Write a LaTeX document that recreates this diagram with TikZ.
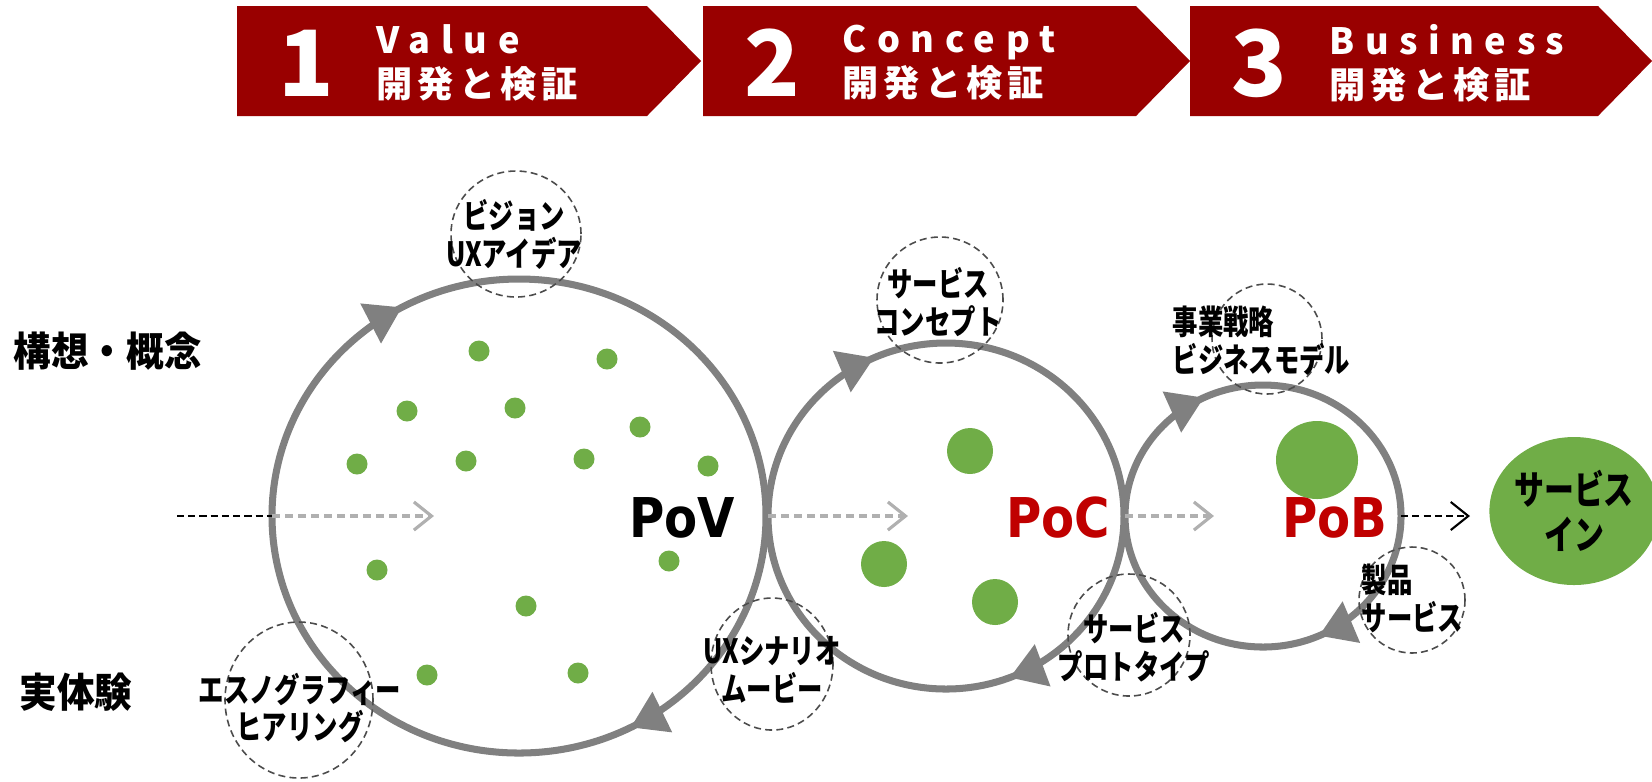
\documentclass[tikz,border=0pt]{standalone}
\usepackage{fontspec}
\usetikzlibrary{arrows.meta,decorations.markings,shapes.geometric}
\setmainfont{Noto Sans CJK JP}
\newfontfamily\lblfont{Noto Sans CJK JP}[FakeStretch=0.76]
\newfontfamily\sidefont{Noto Sans CJK JP}[FakeStretch=0.93]
\newfontfamily\banlatin{Noto Sans CJK JP}[LetterSpace=29]
\newfontfamily\banjp{Noto Sans CJK JP}[LetterSpace=14]
\newfontfamily\pofont{DejaVu Sans}[FakeStretch=0.88]
\definecolor{banred}{HTML}{990000}
\definecolor{leafgreen}{HTML}{70AD47}
\definecolor{ringgray}{HTML}{808080}
\definecolor{leadgray}{HTML}{B0B0B0}
\definecolor{pocred}{HTML}{C00000}
\begin{document}
\begin{tikzpicture}[>={Straight Barb[length=5pt,width=8pt]},
  ring/.style 2 args={draw=ringgray, line width=2pt, postaction={decorate},
    decoration={markings,
      mark=at position #1 with {\arrow{Triangle[length=10pt,width=12.3pt]}},
      mark=at position #2 with {\arrow{Triangle[length=10pt,width=12.3pt]}}}},
  lead/.style={->, leadgray, line width=.9pt, dash pattern=on 2.4pt off 1.3pt},
  cue/.style={black, line width=.6pt, dash pattern=on 2pt off 1.2pt},
  bubble/.style={draw=black!70, line width=.45pt, dash pattern=on 2pt off 1.2pt},
  lbl/.style={font=\lblfont\bfseries\fontsize{9.5}{10.8}\selectfont, align=center, inner sep=0pt},
  side/.style={font=\sidefont\bfseries\fontsize{11.5}{13}\selectfont, anchor=west, inner sep=0pt},
  proof/.style={font=\pofont\bfseries\fontsize{15.6}{18}\selectfont, anchor=base, inner sep=0pt},
  bannum/.style={white, font=\bfseries\fontsize{26}{28}\selectfont, inner sep=0pt},
  banword/.style={white, font=\fontsize{10.3}{12.5}\selectfont, align=left, anchor=west, inner sep=0pt}]
\useasboundingbox (0,0) rectangle (16.52,-7.81);
\foreach \n/\xl/\xr/\word in {1/2.37/6.47/Value, 2/7.03/11.36/Concept, 3/11.90/15.98/Business}
{
    \fill[banred] (\xl,-.06)--(\xr,-.06)--(\xr+.54,-.61)--(\xr,-1.16)--(\xl,-1.16)--cycle;
    \node[bannum] (num\n) at (\xl+.69,-.63) {\n};
    \node[banword] (word\n) at (\xl+1.39,-.63) {{\banlatin\bfseries\word}\\{\banjp\bfseries 開発と検証}};
}
\node[side] (idea) at (.13,-3.51) {構想・概念};
\node[side] (real) at (.19,-6.92) {実体験};
\coordinate (povw) at (2.72,-5.16);
\coordinate (pocw) at (7.68,-5.16);
\coordinate (pobw) at (11.25,-5.16);
\coordinate (pobe) at (14.01,-5.16);
\draw[ring={.170}{.674}] (povw) arc[start angle=180, end angle=-180, x radius=2.47, y radius=2.37];
\draw[ring={.183}{.691}] (pocw) arc[start angle=180, end angle=-180, x radius=1.78, y radius=1.73];
\draw[ring={.178}{.682}] (pobw) arc[start angle=180, end angle=-180, x radius=1.38, y radius=1.31];
\foreach \x/\y in {4.79/3.51, 6.07/3.59, 4.07/4.11, 5.15/4.08, 6.40/4.27, 3.57/4.64, 4.66/4.61, 5.84/4.59, 7.08/4.66, 3.77/5.70, 6.69/5.61, 5.26/6.06, 4.27/6.75, 5.78/6.73}
    \fill[leafgreen] (\x,-\y) circle (.105);
\foreach \x/\y in {9.70/4.51, 8.84/5.64, 9.95/6.02}
    \fill[leafgreen] (\x,-\y) circle (.23);
\fill[leafgreen] (13.17,-4.60) ellipse (.41 and .39);
\node[proof] (povlbl) at (6.82,-5.37) {PoV};
\node[proof, pocred] (poclbl) at (10.58,-5.37) {PoC};
\node[proof, pocred] (poblbl) at (13.35,-5.37) {PoB};
\coordinate (start) at (1.77,-5.16);
\coordinate (povtip) at (4.34,-5.16);
\coordinate (poctip) at (9.08,-5.16);
\coordinate (pobtip) at (12.14,-5.16);
\coordinate (outtip) at (14.70,-5.16);
\draw[cue] (start)--(povw);
\draw[lead] (povw)--(povtip);
\draw[lead] (pocw)--(poctip);
\draw[lead] (pobw)--(pobtip);
\draw[cue, ->] (pobe)--(outtip);
\draw[bubble] (5.16,-2.34) ellipse (.65 and .63);
\node[lbl] (vision) at (5.14,-2.34) {ビジョン\\UXアイデア};
\draw[bubble] (9.40,-3.00) circle (.63);
\node[lbl] (concept) at (9.38,-3.02) {サービス\\コンセプト};
\draw[bubble] (12.67,-3.39) circle (.55);
\node[lbl, align=left, anchor=west] (strategy) at (11.72,-3.41) {事業戦略\\ビジネスモデル};
\draw[bubble] (14.12,-6.00) circle (.53);
\node[lbl, align=left, anchor=west] (product) at (13.61,-5.98) {製品\\サービス};
\draw[bubble] (11.29,-6.35) circle (.61);
\node[lbl] (proto) at (11.34,-6.47) {サービス\\プロトタイプ};
\draw[bubble] (7.72,-6.64) ellipse (.61 and .66);
\node[lbl] (scenario) at (7.72,-6.70) {UXシナリオ\\ムービー};
\draw[bubble] (2.99,-7.00) ellipse (.74 and .78);
\node[lbl] (ethno) at (3.00,-7.08) {エスノグラフィー\\ヒアリング};
\node[ellipse, fill=leafgreen, minimum width=1.54cm, minimum height=1.48cm, inner sep=0pt, align=center,
  font=\lblfont\bfseries\fontsize{11.2}{12.8}\selectfont] (svc) at (15.74,-5.11) {サービス\\イン};
\end{tikzpicture}
\end{document}
